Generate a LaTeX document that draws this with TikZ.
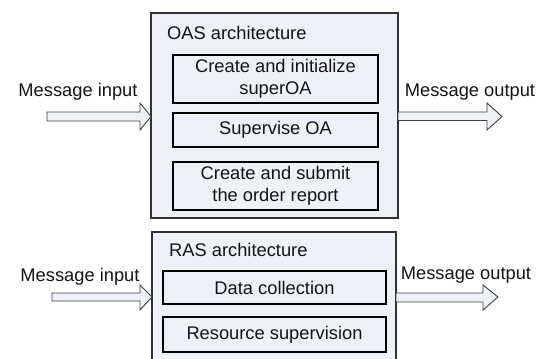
\documentclass[tikz,border=0pt]{standalone}
\usepackage{fontspec}
\setmainfont{Liberation Sans}
\begin{document}
\begin{tikzpicture}[x=1pt,y=-1pt,
  outerbox/.style={draw=black!80,line width=1.1pt,fill=boxfill},
  innerbox/.style={draw=black,line width=1.3pt,fill=boxfill},
  lbl/.style={font=\fontsize{18.3}{21.5}\selectfont,text=black!92,inner sep=0pt,align=center},
  blockarrow/.style={draw=black!75,line width=0.9pt,fill=boxfill,line join=miter}]
\definecolor{boxfill}{HTML}{EEF1F8}
\useasboundingbox (0,0) rectangle (547,359);
% OAS
\draw[outerbox] (151,13) rectangle (398,218);
\node[lbl,anchor=west] (oas) at (167,33) {OAS architecture};
\draw[innerbox] (173,55) rectangle (378,103);
\node[lbl] (c1) at (275.5,79) {Create and initialize\\superOA};
\draw[innerbox] (173,113) rectangle (378,147);
\node[lbl] (c2) at (275.5,130) {Supervise OA};
\draw[innerbox] (173,162) rectangle (378,210);
\node[lbl] (c3) at (275.5,186) {Create and submit\\the order report};
% RAS
\draw[outerbox] (152,232) rectangle (396,365);
\node[lbl,anchor=west] (ras) at (169,250) {RAS architecture};
\draw[innerbox] (163,271) rectangle (386,304);
\node[lbl] (r1) at (274.5,287.5) {Data collection};
\draw[innerbox] (163,317) rectangle (386,352);
\node[lbl] (r2) at (274.5,334.5) {Resource supervision};
% arrows top
\node[lbl] (mi1) at (78,92) {Message input};
\draw[blockarrow] (47,112) -- (140,112) -- (140,103) -- (151,116.5) -- (140,130) -- (140,121) -- (47,121) -- cycle;
\node[lbl] (mo1) at (470,92) {Message output};
\draw[blockarrow] (398,112) -- (487,112) -- (487,103) -- (502,116.5) -- (487,130) -- (487,120.5) -- (398,120.5) -- cycle;
% arrows bottom
\node[lbl] (mi2) at (80,277) {Message input};
\draw[blockarrow] (52,293) -- (140,293) -- (140,285) -- (152,297) -- (140,310) -- (140,301) -- (52,301) -- cycle;
\node[lbl] (mo2) at (466,275) {Message output};
\draw[blockarrow] (396,293) -- (483,293) -- (483,285) -- (498,297) -- (483,310) -- (483,302) -- (396,302) -- cycle;
\end{tikzpicture}
\end{document}
